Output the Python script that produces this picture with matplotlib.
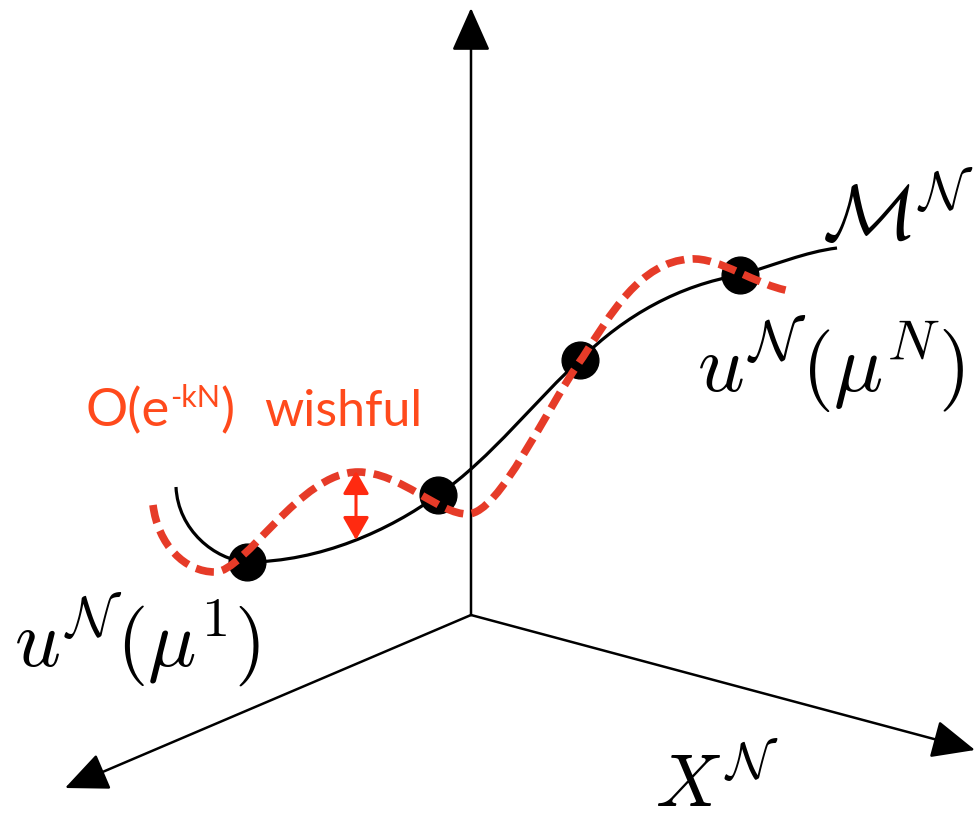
import numpy as np
import matplotlib
matplotlib.use('Agg')
import matplotlib.pyplot as plt
from matplotlib.path import Path
from matplotlib.patches import PathPatch, FancyArrowPatch

plt.rcParams["mathtext.fontset"] = "cm"

W, H = 977, 824

# sketch coordinates are image pixels (y pointing down)
origin = (471, 615)
axis_tips = [(471, 8), (65, 788), (975, 750)]

# manifold M^N, cubic bezier pieces: start, ctrl, ctrl, end, ctrl, ctrl, end ...
manifold_pts = [(176, 487), (178, 530), (215, 560), (247, 562),
                (320, 562), (390, 530), (438, 495),
                (490, 460), (540, 395), (580, 360),
                (625, 315), (680, 285), (740, 275),
                (775, 265), (805, 252), (837, 248)]

# "wishful" approximation, same layout
wishful_pts = [(153, 505), (158, 545), (185, 572), (215, 572),
               (245, 572), (300, 472), (358, 472),
               (400, 472), (440, 515), (468, 514),
               (500, 513), (545, 410), (583, 357),
               (610, 315), (640, 262), (690, 259),
               (720, 257), (755, 285), (790, 291)]

snapshots = [(247, 562), (438, 495), (580, 360), (740, 275)]

gap_arrow = [(356, 540), (356, 471)]

labels = [r"$u^{\mathcal{N}}(\mu^1)$", r"$u^{\mathcal{N}}(\mu^N)$",
          r"$\mathcal{M}^{\mathcal{N}}$", r"$X^{\mathcal{N}}$"]
label_pos = [(14, 667), (697, 392), (822, 240), (655, 807)]
label_size = [58, 59, 56, 54]

red_text = ["O(e", "-kN", ")", "wishful"]

fig = plt.figure(figsize=(W / 100, H / 100), dpi=100)
ax = fig.add_axes([0, 0, 1, 1])
ax.set_xlim(0, W)
ax.set_ylim(H, 0)
ax.axis('off')

# axes of the space X^N
for tip in axis_tips:
    ax.add_patch(FancyArrowPatch(origin, tip, arrowstyle='-|>,head_length=27,head_width=12',
                                 mutation_scale=1, lw=1.8, color='black',
                                 shrinkA=0, shrinkB=0, zorder=2))

def bezier(pts):
    codes = [Path.MOVETO] + [Path.CURVE4] * (len(pts) - 1)
    return Path(pts, codes)

ax.add_patch(PathPatch(bezier(manifold_pts), fc='none', ec='black', lw=2.3, zorder=3))

sx, sy = zip(*snapshots)
ax.scatter(sx, sy, s=700, color='black', zorder=4)

red = PathPatch(bezier(wishful_pts), fc='none', ec='#E63B28', lw=5.5, zorder=5,
                capstyle='butt')
red.set_linestyle((0, (2.4, 1.1)))
ax.add_patch(red)

ax.add_patch(FancyArrowPatch(gap_arrow[0], gap_arrow[1], arrowstyle='<|-|>,head_length=14,head_width=8',
                             mutation_scale=1, lw=2.2, color='#FF2A10',
                             shrinkA=0, shrinkB=0, zorder=6))

for txt, (x, y), fs in zip(labels, label_pos, label_size):
    ax.text(x, y, txt, fontsize=fs, va='baseline', ha='left', color='black')

# red annotation, pieces chained left to right
fig.canvas.draw()
r = fig.canvas.get_renderer()
inv = ax.transData.inverted()
x = 85
sizes = [38, 22, 38, 36]
ys = [426, 407, 426, 426]
gaps = [0, 1, 0, 30]
for txt, fs, y, g in zip(red_text, sizes, ys, gaps):
    t = ax.text(x + g, y, txt, fontsize=fs, family='Lato', color='#FF4A1C',
                va='baseline', ha='left')
    bb = t.get_window_extent(r)
    x = inv.transform((bb.x1, bb.y0))[0]

fig.savefig('out.png', dpi=100)
